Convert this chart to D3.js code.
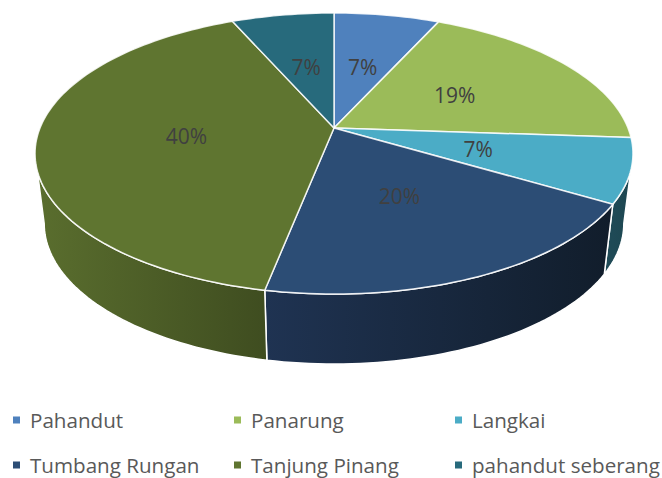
<!DOCTYPE html>
<html>
<head>
<meta charset="utf-8">
<script src="https://cdn.jsdelivr.net/npm/d3@7"></script>
<style>
  html, body { margin: 0; padding: 0; background: #fff; }
  svg { display: block; }
  .pctLabel { font-family: "Open Sans", sans-serif; font-size: 21px; fill: #404040; text-anchor: middle; dominant-baseline: central; }
  .legendText { font-family: "Open Sans", sans-serif; font-size: 20.6px; fill: #595959; dominant-baseline: central; }
</style>
</head>
<body>
<div id="chart"></div>
<script>
// chart data
var categories = ["Pahandut", "Panarung", "Langkai", "Tumbang Rungan", "Tanjung Pinang", "pahandut seberang"];
var values = [6.8, 19.3, 7.4, 19.6, 40.3, 6.6];

// colours of the top faces and of the side walls (left and right end of the gradient)
var topColors = ["#4f81bd", "#9bbb59", "#4bacc6", "#2c4d75", "#5f7530", "#276a7c"];
var wallLeft = ["#2f4d71", "#5d7035", "#1f4a56", "#1f3352", "#5a6e2e", "#173f4a"];
var wallRight = ["#2f4d71", "#5d7035", "#1d4650", "#111d2b", "#3f4d20", "#173f4a"];

var width = 662;
var height = 478;

// the tilted pie is a circle seen in perspective, k is how strong that is
var k = 0.1815;
var topFace = { cx: 334, cy: 128, rx: 294, ry: 135.9 };
var bottomFace = { cx: 334, cy: 198, rx: 285, ry: 135.9 };

// the wall is only visible between these two angles (left and right edge of the ellipse)
var wallStart = Math.acos(-k);
var wallEnd = 2 * Math.PI - wallStart;

function project(face, angle, r) {
  var x = r * Math.sin(angle);
  var y = -r * Math.cos(angle);
  var w = 1 - k * y;
  return [face.cx + face.rx * x / w, face.cy + face.ry * y / w];
}

// points along the rim between two angles
function rim(face, a0, a1) {
  var steps = Math.max(2, Math.ceil((a1 - a0) * 40));
  return d3.range(steps + 1).map(function(i) {
    return project(face, a0 + (a1 - a0) * i / steps, 1);
  });
}

var svg = d3.select("#chart")
  .append("svg")
  .attr("width", width)
  .attr("height", height);

var line = d3.line();
var defs = svg.append("defs");

var slices = d3.pie().sort(null)(values);
var total = d3.sum(values);

// keep the visible part of each slice for the wall
slices.forEach(function(d, i) {
  d.wallA = Math.max(d.startAngle, wallStart);
  d.wallB = Math.min(d.endAngle, wallEnd);
  d.index = i;
});
var wallSlices = slices.filter(function(d) { return d.wallB > d.wallA; });

// horizontal gradient per wall
wallSlices.forEach(function(d) {
  var pts = rim(topFace, d.wallA, d.wallB);
  var xs = d3.extent(pts, function(p) { return p[0]; });
  var grad = defs.append("linearGradient")
    .attr("id", "wall" + d.index)
    .attr("gradientUnits", "userSpaceOnUse")
    .attr("x1", xs[0]).attr("x2", xs[1])
    .attr("y1", 0).attr("y2", 0);
  grad.append("stop").attr("offset", 0).attr("stop-color", wallLeft[d.index]);
  grad.append("stop").attr("offset", 1).attr("stop-color", wallRight[d.index]);
});

// side walls first, the top face goes over them
svg.append("g").selectAll("path")
  .data(wallSlices)
  .enter()
  .append("path")
  .attr("d", function(d) {
    var upper = rim(topFace, d.wallA, d.wallB);
    var lower = rim(bottomFace, d.wallA, d.wallB).reverse();
    return line(upper.concat(lower)) + "Z";
  })
  .attr("fill", function(d) { return "url(#wall" + d.index + ")"; })
  .attr("stroke", "#fff")
  .attr("stroke-width", 1.5)
  .attr("stroke-linejoin", "round");

// top faces
svg.append("g").selectAll("path")
  .data(slices)
  .enter()
  .append("path")
  .attr("d", function(d) {
    var pts = [project(topFace, 0, 0)].concat(rim(topFace, d.startAngle, d.endAngle));
    return line(pts) + "Z";
  })
  .attr("fill", function(d, i) { return topColors[i]; })
  .attr("stroke", "#fff")
  .attr("stroke-opacity", 0.85)
  .attr("stroke-width", 1.5)
  .attr("stroke-linejoin", "round");

// percent labels
svg.append("g").selectAll("text")
  .data(slices)
  .enter()
  .append("text")
  .attr("class", "pctLabel")
  .attr("x", function(d) { return project(topFace, (d.startAngle + d.endAngle) / 2, 0.5)[0]; })
  .attr("y", function(d) { return project(topFace, (d.startAngle + d.endAngle) / 2, 0.5)[1]; })
  .text(function(d) { return d3.format(".0%")(d.value / total); });

// legend, 3 columns and 2 rows
var legendX = d3.scalePoint().domain([0, 1, 2]).range([13, 455]);
var legendY = d3.scalePoint().domain([0, 1]).range([420, 465]);

var legend = svg.append("g").selectAll("g")
  .data(categories)
  .enter()
  .append("g")
  .attr("transform", function(d, i) {
    return "translate(" + legendX(i % 3) + "," + legendY(Math.floor(i / 3)) + ")";
  });

legend.append("rect")
  .attr("x", 0)
  .attr("y", -3.5)
  .attr("width", 7)
  .attr("height", 7)
  .attr("fill", function(d, i) { return topColors[i]; });

legend.append("text")
  .attr("class", "legendText")
  .attr("x", 17)
  .attr("y", 0)
  .text(function(d) { return d; });
</script>
</body>
</html>
